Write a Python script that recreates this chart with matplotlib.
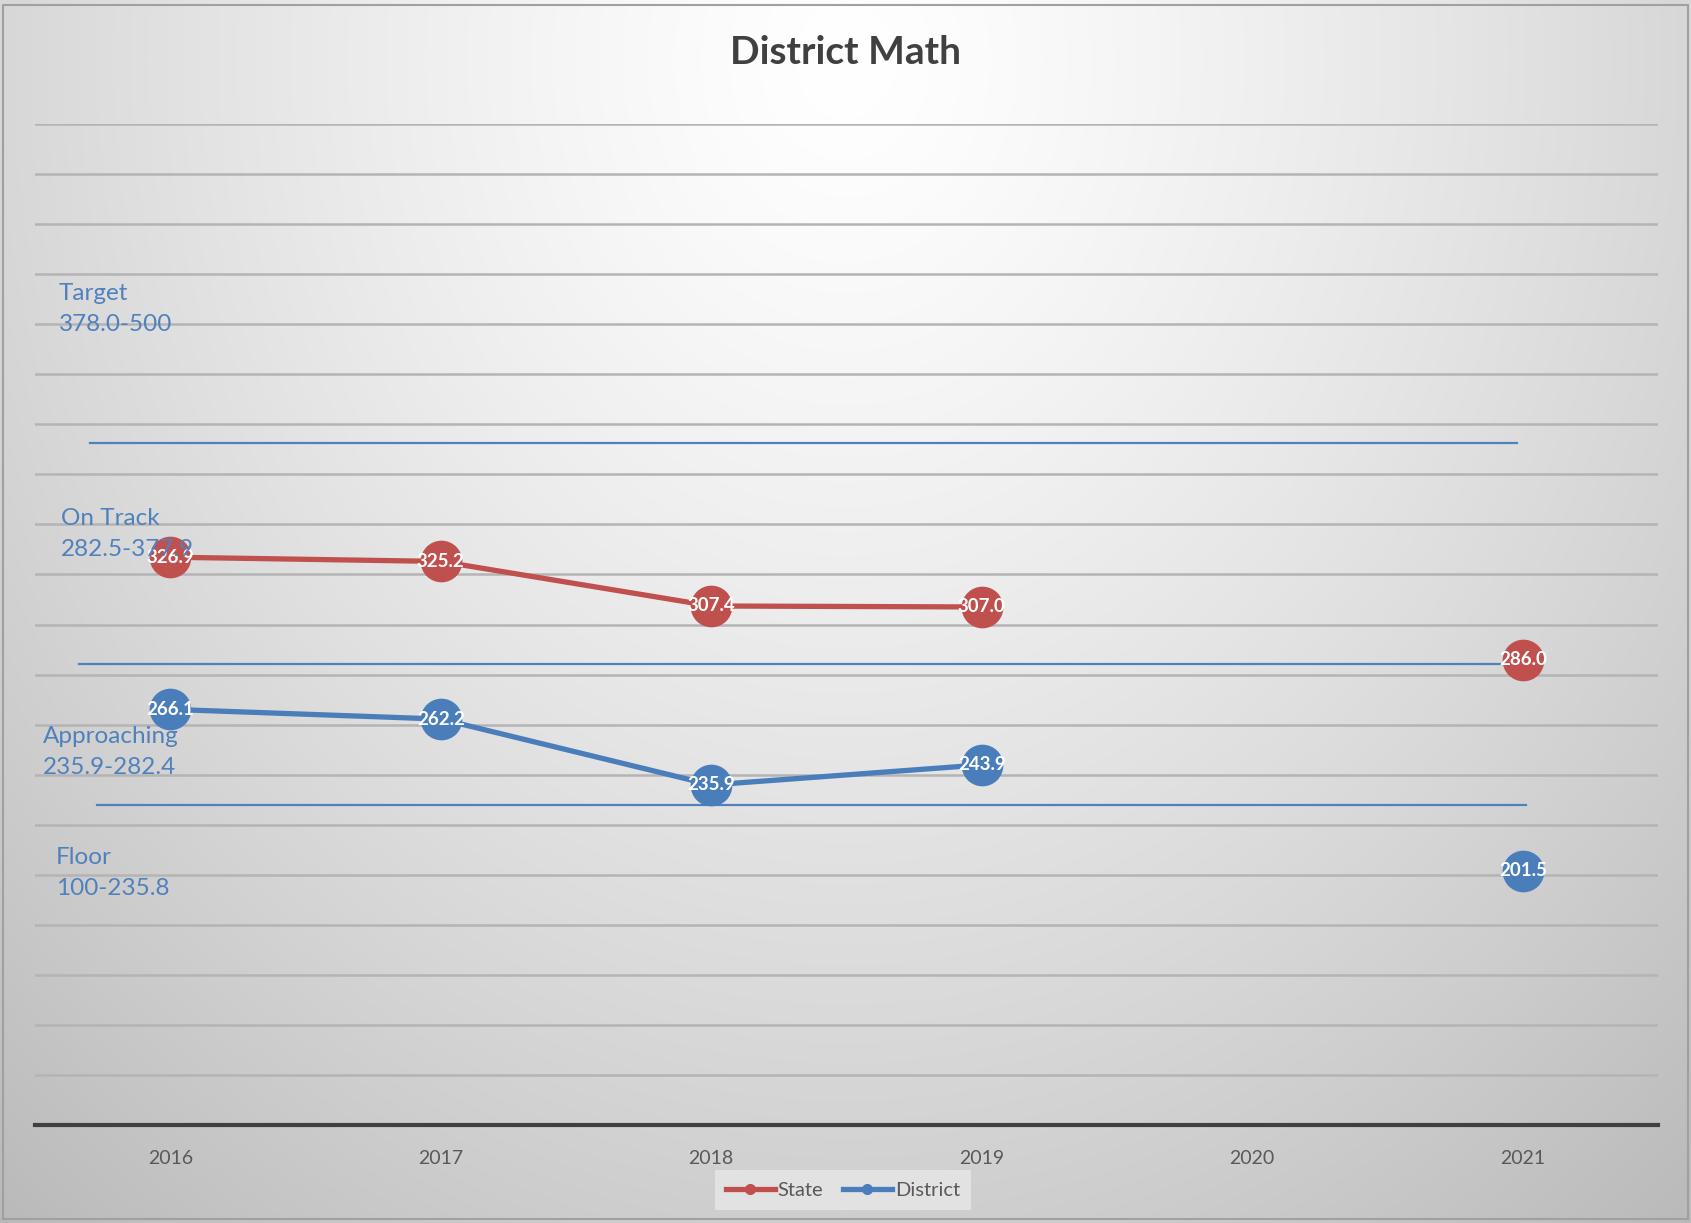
import numpy as np
import matplotlib
matplotlib.use('Agg')
import matplotlib.pyplot as plt

plt.rcParams['font.family'] = ['Lato', 'DejaVu Sans']

years = ['2016', '2017', '2018', '2019', '2020', '2021']
state = [326.9, 325.2, 307.4, 307.0, np.nan, 286.0]
district = [266.1, 262.2, 235.9, 243.9, np.nan, 201.5]

band_labels = ['Target\n378.0-500', 'On Track\n282.5-377.9',
               'Approaching\n235.9-282.4', 'Floor\n100-235.8']

red = '#C0504D'
blue = '#4A7EBB'
band_blue = '#4F81BD'

W, H = 1691, 1223
fig = plt.figure(figsize=(W / 100, H / 100), dpi=100)

# radial-ish background gradient, white at top centre
bg = fig.add_axes([0, 0, 1, 1], zorder=-10)
yy, xx = np.mgrid[0:H, 0:W]
d = np.sqrt(((xx - 845) / 1100.0) ** 2 + ((yy - 60) / 1300.0) ** 2)
g = 1 - 0.22 * np.clip(d, 0, 1.2) ** 1.3
bg.imshow(np.dstack([g, g, g]), aspect='auto', extent=[0, 1, 0, 1])
bg.set_xlim(0, 1)
bg.set_ylim(0, 1)
bg.axis('off')
# outer frame
bg.plot([0.002, 0.002, 0.998, 0.998, 0.002], [0.003, 0.996, 0.996, 0.003, 0.003],
        color='#a0a0a0', lw=1.5)

ax = fig.add_axes([35 / W, 1 - 1125 / H, 1623 / W, 1001 / H])
ax.patch.set_alpha(0)
x = np.arange(len(years))
ax.set_xlim(-0.5, 5.5)
ax.set_ylim(100, 500)

for v in range(120, 501, 20):
    ax.axhline(v, color='#b4b4b4', lw=1.8, zorder=1)

for s in ['top', 'left', 'right']:
    ax.spines[s].set_visible(False)
ax.spines['bottom'].set_color('#404040')
ax.spines['bottom'].set_linewidth(3)
ax.set_yticks([])
ax.set_xticks(x)
ax.set_xticklabels(years, fontsize=14, color='#595959')
ax.tick_params(axis='x', length=0, pad=18)

# band separator lines
ax.plot([-0.297, 4.979], [372.5, 372.5], color=band_blue, lw=1.6, zorder=2)
ax.plot([-0.337, 4.990], [284.2, 284.2], color=band_blue, lw=1.6, zorder=2)
ax.plot([-0.271, 5.012], [227.9, 227.9], color=band_blue, lw=1.6, zorder=2)

# band labels
fig.text(59 / W, 1 - 309 / H, band_labels[0], fontsize=17.5, color=band_blue,
         va='center', ha='left', linespacing=1.55, zorder=3)
fig.text(61 / W, 1 - 534 / H, band_labels[1], fontsize=17.5, color=band_blue,
         va='center', ha='left', linespacing=1.55, zorder=3)
fig.text(43 / W, 1 - 752 / H, band_labels[2], fontsize=17.5, color=band_blue,
         va='center', ha='left', linespacing=1.55, zorder=3)
fig.text(56 / W, 1 - 873 / H, band_labels[3], fontsize=17.5, color=band_blue,
         va='center', ha='left', linespacing=1.55, zorder=3)

ax.plot(x, state, color=red, lw=3.8, marker='o', markersize=29,
        solid_capstyle='round', label='State', zorder=5)
ax.plot(x, district, color=blue, lw=3.8, marker='o', markersize=29,
        solid_capstyle='round', label='District', zorder=5)

for xi, v in zip(x, state):
    if not np.isnan(v):
        ax.text(xi, v, f'{v:.1f}', color='white', fontsize=13.5, fontweight='bold',
                ha='center', va='center', zorder=6)
for xi, v in zip(x, district):
    if not np.isnan(v):
        ax.text(xi, v, f'{v:.1f}', color='white', fontsize=13.5, fontweight='bold',
                ha='center', va='center', zorder=6)

fig.text(0.5, 1 - 53 / H, 'District Math', fontsize=28, fontweight='bold',
         color='#404040', ha='center', va='center')

handles = [
    plt.Line2D([0], [0], color=red, lw=3.8, marker='o', markersize=7),
    plt.Line2D([0], [0], color=blue, lw=3.8, marker='o', markersize=7),
]
leg = fig.legend(handles, ['State', 'District'], loc='center',
                 bbox_to_anchor=(843 / W, 1 - 1190 / H), ncol=2, frameon=True,
                 fontsize=14.5, handlelength=2.4, handletextpad=0.15,
                 columnspacing=1.0, borderpad=0.55, fancybox=False)
leg.get_frame().set_facecolor('#e2e2e2')
leg.get_frame().set_edgecolor('none')
leg.get_frame().set_alpha(1)
for t in leg.get_texts():
    t.set_color('#595959')

fig.savefig('out.png', dpi=100)
